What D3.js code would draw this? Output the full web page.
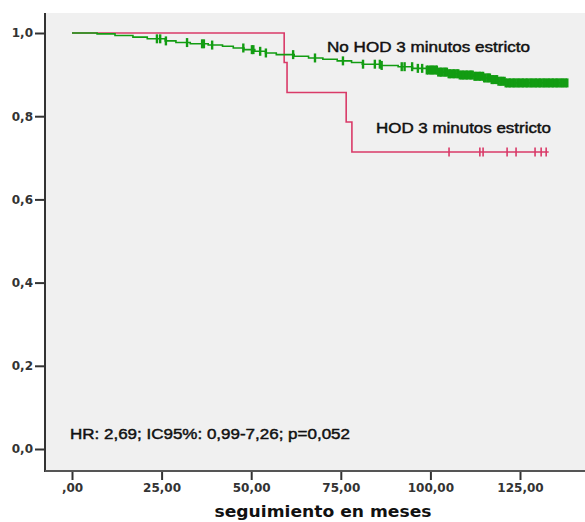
<!DOCTYPE html>
<html>
<head>
<meta charset="utf-8">
<script src="https://cdn.jsdelivr.net/npm/d3@7"></script>
<style>
  body { margin: 0; background: #fff; }
  svg { display: block; }
  .tick text { font-family: "DejaVu Sans", sans-serif; font-weight: bold; font-size: 12px; fill: #333; }
  .note { font-family: "Liberation Sans", Arial, sans-serif; font-size: 14.5px; fill: #111; stroke: #111; stroke-width: 0.45px; }
</style>
</head>
<body>
<svg id="chart" width="585" height="522"></svg>
<script>
// group 1: No HOD 3 minutos estricto (event times in months, survival after each event)
const noHodTimes = [0, 7, 12, 17, 21, 26, 29, 33, 38, 42, 45, 48, 51, 54, 57, 62, 66, 70, 74, 78, 81, 86, 91, 95, 99, 102, 105, 108, 112, 115, 117, 119, 121];
const noHodSurv  = [1, 0.998, 0.994, 0.990, 0.986, 0.981, 0.977, 0.974, 0.971, 0.968, 0.964, 0.960, 0.956, 0.952, 0.948, 0.944, 0.940, 0.937, 0.933, 0.929, 0.925, 0.922, 0.919, 0.915, 0.911, 0.906, 0.902, 0.899, 0.896, 0.892, 0.888, 0.884, 0.880];
const noHodEnd = 138.4;
const noHodCensored = [23.7, 24.6, 26.2, 32.1, 36.3, 36.8, 39.1, 47.8, 50.2, 50.6, 52.5, 54.1, 61.7, 67.8, 75.6, 81.2, 84.5, 85.9, 86.4, 92.0, 92.8, 94.9, 96.5, 97.7,
  99.0, 99.4, 99.9, 100.3, 100.6, 101.0, 101.5, 101.8, 102.2, 102.7, 103.0, 103.4, 103.9, 104.2, 104.6, 105.1, 105.4, 105.8, 106.3, 106.6, 107.0, 107.5, 107.8, 108.2,
  108.7, 109.0, 109.4, 109.9, 110.2, 110.6, 111.1, 111.4, 111.8, 112.3, 112.6, 113.0, 113.5, 113.8, 114.2, 114.7, 115.0, 115.4, 115.9, 116.2, 116.6, 117.1, 117.4,
  117.8, 118.3, 118.6, 119.0, 119.5, 119.8, 120.2, 120.7, 121.0, 121.4, 121.9, 122.2, 122.6, 123.1, 123.4, 123.8, 124.3, 124.6, 125.0, 125.5, 125.8, 126.2, 126.7,
  127.0, 127.4, 127.9, 128.2, 128.6, 129.1, 129.4, 129.8, 130.3, 130.6, 131.0, 131.5, 131.8, 132.2, 132.7, 133.0, 133.4, 133.9, 134.2, 134.6, 135.1, 135.4, 135.8,
  136.3, 136.6, 137.0, 137.4, 137.8, 138.2];

// group 2: HOD 3 minutos estricto
const hodTimes = [0, 59.2, 60.0, 76.5, 78.1];
const hodSurv  = [1, 0.929, 0.857, 0.786, 0.714];
const hodEnd = 133;
const hodCensored = [105.2, 113.8, 114.7, 121.4, 123.9, 129.2, 130.9, 132.3];

const xTicks = [0, 25, 50, 75, 100, 125];
const xTickLabels = [",00", "25,00", "50,00", "75,00", "100,00", "125,00"];
const yTicks = [0, 0.2, 0.4, 0.6, 0.8, 1.0];
const yTickLabels = ["0,0", "0,2", "0,4", "0,6", "0,8", "1,0"];

const svg = d3.select('#chart');

const x = d3.scaleLinear().domain([0, 125]).range([72, 520]);
const y = d3.scaleLinear().domain([0, 1]).range([449, 33]);

// plot area
const plotLeft = 45, plotRight = 585, plotTop = 13, plotBottom = 471;
svg.append('rect')
  .attr('x', plotLeft).attr('y', plotTop)
  .attr('width', plotRight - plotLeft).attr('height', plotBottom - plotTop)
  .attr('fill', '#f0f0f0');

function stepPoints(times, surv, end) {
  const pts = [];
  times.forEach((t, i) => pts.push([t, surv[i]]));
  pts.push([end, surv[surv.length - 1]]);
  return pts;
}

function survAt(times, surv, t) {
  let s = surv[0];
  times.forEach((tt, i) => { if (tt <= t) s = surv[i]; });
  return s;
}

const line = d3.line()
  .x(d => x(d[0]))
  .y(d => y(d[1]))
  .curve(d3.curveStepAfter);

function drawCurve(times, surv, end, censored, color, markWidth) {
  svg.append('path')
    .datum(stepPoints(times, surv, end))
    .attr('d', line)
    .attr('fill', 'none')
    .attr('stroke', color)
    .attr('stroke-width', 1.6);

  svg.selectAll(null)
    .data(censored)
    .enter()
    .append('line')
    .attr('x1', d => x(d)).attr('x2', d => x(d))
    .attr('y1', d => y(survAt(times, surv, d)) - 4.5)
    .attr('y2', d => y(survAt(times, surv, d)) + 4.5)
    .attr('stroke', color)
    .attr('stroke-width', markWidth);
}

drawCurve(hodTimes, hodSurv, hodEnd, hodCensored, '#d93a68', 1.6);
drawCurve(noHodTimes, noHodSurv, noHodEnd, noHodCensored, '#129c12', 2.4);

// axes
const yAxis = d3.axisLeft(y)
  .tickValues(yTicks)
  .tickFormat((d, i) => yTickLabels[i])
  .tickSize(10)
  .tickPadding(2)
  .tickSizeOuter(0);

const gy = svg.append('g')
  .attr('transform', `translate(${plotLeft},0)`)
  .call(yAxis);
gy.select('.domain').remove();
gy.selectAll('.tick line').attr('stroke', '#333').attr('stroke-width', 2);

const xAxis = d3.axisBottom(x)
  .tickValues(xTicks)
  .tickFormat((d, i) => xTickLabels[i])
  .tickSize(9)
  .tickPadding(3)
  .tickSizeOuter(0);

const gx = svg.append('g')
  .attr('transform', `translate(0,${plotBottom})`)
  .call(xAxis);
gx.select('.domain').remove();
gx.selectAll('.tick line').attr('stroke', '#333').attr('stroke-width', 2);

svg.append('line')
  .attr('x1', plotLeft).attr('x2', plotLeft)
  .attr('y1', plotTop).attr('y2', plotBottom + 1)
  .attr('stroke', '#333').attr('stroke-width', 2);
svg.append('line')
  .attr('x1', plotLeft).attr('x2', plotRight)
  .attr('y1', plotBottom).attr('y2', plotBottom)
  .attr('stroke', '#555').attr('stroke-width', 2);

// labels
svg.append('text').attr('class', 'note')
  .attr('x', 327).attr('y', 52)
  .attr('textLength', 203).attr('lengthAdjust', 'spacingAndGlyphs')
  .text('No HOD 3 minutos estricto');

svg.append('text').attr('class', 'note')
  .attr('x', 376).attr('y', 133)
  .attr('textLength', 175).attr('lengthAdjust', 'spacingAndGlyphs')
  .text('HOD 3 minutos estricto');

svg.append('text').attr('class', 'note')
  .attr('x', 70).attr('y', 439)
  .attr('textLength', 280).attr('lengthAdjust', 'spacingAndGlyphs')
  .text('HR: 2,69; IC95%: 0,99-7,26; p=0,052');

svg.append('text')
  .attr('x', 323).attr('y', 517)
  .attr('text-anchor', 'middle')
  .style('font-family', '"DejaVu Sans", sans-serif')
  .style('font-weight', 'bold')
  .style('font-size', '16px')
  .style('fill', '#111')
  .attr('textLength', 217).attr('lengthAdjust', 'spacingAndGlyphs')
  .text('seguimiento en meses');
</script>
</body>
</html>
